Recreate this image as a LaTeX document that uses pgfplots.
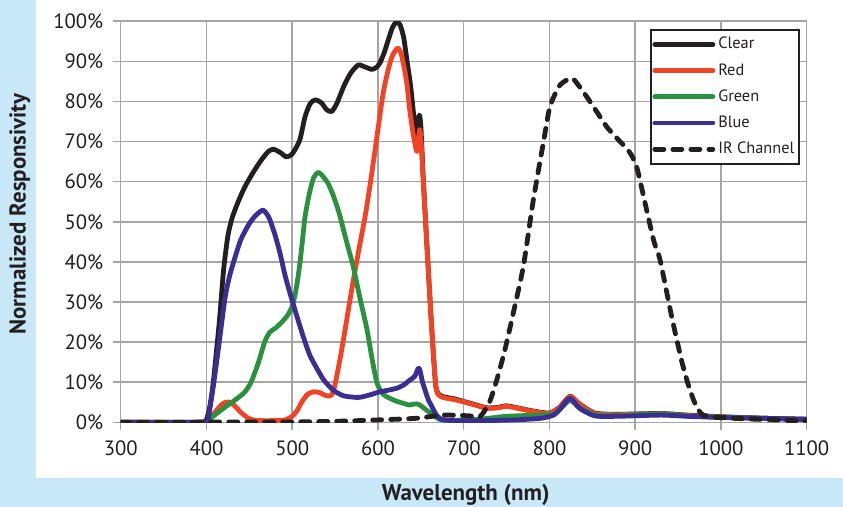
\documentclass[border=0pt]{standalone}
\usepackage{fontspec}
\setmainfont{PT Sans}
\usepackage{pgfplots}
\pgfplotsset{compat=1.18}
\definecolor{bgblue}{RGB}{200,232,248}
\definecolor{gridgray}{RGB}{165,165,168}
\definecolor{ink}{RGB}{35,31,32}
\definecolor{cred}{RGB}{240,68,36}
\definecolor{cgreen}{RGB}{42,146,62}
\definecolor{cblue}{RGB}{58,46,146}

\begin{document}
\begin{tikzpicture}
\useasboundingbox (0,0) rectangle (421.5bp,253.5bp);
\fill[bgblue] (0,0) rectangle (421.5bp,253.5bp);
\fill[white] (18bp,14.5bp) rectangle (421.5bp,253.5bp);
\begin{axis}[
    at={(60.35bp,42.35bp)}, anchor=south west,
    scale only axis, width=343bp, height=200.5bp,
    xmin=300, xmax=1100, ymin=0, ymax=100,
    xtick={300,400,...,1100}, ytick={0,10,...,100},
    yticklabel={\pgfmathprintnumber{\tick}\%},
    /pgf/number format/set thousands separator={},
    /pgf/number format/assume math mode=true,
    grid=major,
    major grid style={draw=gridgray, line width=0.8bp},
    axis line style={draw=gridgray, line width=0.8bp},
    tick style={draw=gridgray, line width=0.8bp},
    tick align=outside, tick pos=left, major tick length=4bp,
    ticklabel style={font=\fontsize{10.4}{12}\selectfont, text=ink},
    xticklabel style={yshift=-1.5bp},
    yticklabel style={xshift=-1.2bp},
    xlabel={Wavelength (nm)},
    ylabel={Normalized Responsivity},
    label style={font=\bfseries\fontsize{11.5}{13}\selectfont, text=ink},
    xlabel style={at={(rel axis cs:0.503,-0.195)}, anchor=base},
    ylabel style={at={(rel axis cs:-0.147,0.519)}, anchor=center},
    legend style={at={(rel axis cs:0.990,0.981)}, anchor=north east,
        draw=ink, line width=0.8bp, fill=white,
        font=\fontsize{8.2}{9}\selectfont, text=ink,
        inner sep=0.8bp, row sep=0pt,
        nodes={inner xsep=1.5bp, inner ysep=2.5bp, text height=6.3bp, text depth=1.8bp}},
    legend cell align=left,
    legend image code/.code={\draw[#1] (0bp,0bp) -- (29bp,0bp);},
    every axis plot/.append style={line width=2.4bp, smooth, tension=0.4, line join=round, line cap=round},
]
% Clear
\addplot[ink] coordinates {
(300,0) (390,0) (397,0.2) (400,0.6) (404,4) (408,10) (415,25) (420,38) (425,46.5) (430,51)
(437,55) (445,58.8) (455,62.5) (464,65.4) (472,67.5) (478,68.1) (486,67.3) (493,66.2)
(499,66.7) (503,67.9) (509,70.5) (515,76.2) (521,79.5) (527,80.4) (534,79.7) (540,78)
(546,77.5) (552,79.5) (560,83.7) (568,87) (577,89.1) (585,88.6) (593,88.0) (598,88.5)
(602,89.5) (607,92) (612,95.3) (617,98.5) (622,99.9) (626,99) (630,96) (634,90)
(638,84) (642,76) (645,70.5) (648,76.5) (650,74) (653,60) (657,44.6) (662,26)
(667,10) (670,7.2) (676,6.4) (690,5.8) (700,5.2) (715,4.3) (727,3.6) (740,3.7) (750,4.1)
(765,3.5) (781,2.8) (800,2.3) (812,3.8) (824,6.5) (835,4.6) (853,2.3) (880,2.0)
(930,2.2) (960,1.8) (1000,1.4) (1050,1.0) (1100,0.8)
};
\addlegendentry{Clear}
% Red
\addplot[cred] coordinates {
(300,0) (398,0) (402,0.6) (410,2.5) (418,4.5) (425,5.1) (432,4.3) (440,2.5) (449,1)
(457,0.5) (470,0.4) (485,0.5) (492,0.6) (500,1.5) (506,3) (511,5) (518,7) (525,7.6)
(532,7.4) (540,6.6) (546,6.8) (550,9.5) (556,16) (562,23.5) (567,30) (573,37.5)
(579,44.5) (585,51.3) (590,58) (595,65.4) (600,73) (606,82) (612,88) (617,91.5)
(623,93.3) (627,92) (631,88) (634,84) (637,78) (641,72) (644,68.5) (645.5,67.5)
(647,70) (648.5,73) (650,71) (653,60) (657,44.6) (662,26) (667,10) (670,7) (676,6.2)
(690,5.6) (700,5.1) (715,4.2) (727,3.5) (740,3.6) (750,4) (765,3.4) (781,2.7)
(800,2.2) (812,3.7) (824,6.4) (835,4.5) (853,2.2) (880,1.9) (930,2.1) (960,1.7)
(1000,1.3) (1050,1.0) (1100,0.7)
};
\addlegendentry{Red}
% Green
\addplot[cgreen] coordinates {
(300,0) (398,0) (402,0.5) (412,2.2) (425,4.3) (435,5.8) (445,7.6) (452,10) (460,14.5)
(468,20.1) (474,22.5) (480,23.4) (488,25) (495,26.8) (500,29) (504,32.5) (508,38)
(511,43.4) (515,51.3) (520,57) (525,61) (530.5,62.3) (536,61.3) (542,59.5) (548,56.5)
(555,52) (561,47) (566,43) (571,39) (579,31) (587,23.4) (593,16) (598.5,10.1)
(604,7.5) (610,6.4) (620,5.4) (630,4.7) (637,4.3) (641,4.5) (645,4.6) (649,4.3)
(655,3.3) (662,2.2) (668,1.2) (674,0.6) (690,0.5) (720,0.8) (750,1.5) (790,1.8)
(805,2) (812,3.2) (824,5.5) (835,3.7) (853,1.9) (880,1.7) (930,2.1) (960,1.6)
(1000,1.3) (1050,1.0) (1100,0.7)
};
\addlegendentry{Green}
% Blue
\addplot[cblue] coordinates {
(300,0) (398,0) (402,1) (408,9) (414,18.5) (421.6,30.9) (427,36.5) (433,40.9)
(440,45.5) (449,49.2) (457,51.5) (466,52.9) (473,51) (480,46.7) (486,42) (491.6,36.7)
(497,32.5) (503,28.2) (509,24) (515,20) (521,16.5) (528.6,13.5) (537,10.5) (548,8)
(560,6.6) (577,6.2) (590,6.8) (602,7.6) (612,8) (622,8.5) (630,9.3) (637,10.5)
(643,11.5) (647,13.5) (649,13) (652,10) (655,8) (659,5.5) (663,3.9) (667,2.2)
(670,1.4) (675,0.7) (690,0.4) (720,0.4) (760,0.6) (790,1) (805,1.8) (812,3.2)
(824,6.0) (835,3.5) (853,1.6) (880,1.5) (930,1.8) (960,1.5) (1000,1.2) (1050,1.0)
(1100,0.7)
};
\addlegendentry{Blue}
% IR Channel
\addplot[ink, dash pattern=on 4.5bp off 4.5bp] coordinates {
(300,0) (500,0.1) (560,0.3) (600,0.6) (645,1) (676,1.8) (707,1.6) (719,1.4) (730,5)
(738.5,10.5) (748,18) (757.8,27.2) (769.5,38.8) (781.2,55.4) (792.8,69.6) (800.6,78.7)
(812.3,84.1) (826,85.8) (834,84) (843.4,81.2) (855,77.5) (866.8,73.7) (878,71)
(890,68.3) (896,66.5) (901.7,63.7) (907,59) (913.4,52.9) (922,45) (929,40.5)
(942.6,26.3) (954,15.5) (961,10) (968,5.6) (974,3) (979.4,1.8) (990,1.3) (1014,1.0)
(1050,0.7) (1100,0.3)
};
\addlegendentry{IR Channel}
\end{axis}
\end{tikzpicture}
\end{document}
